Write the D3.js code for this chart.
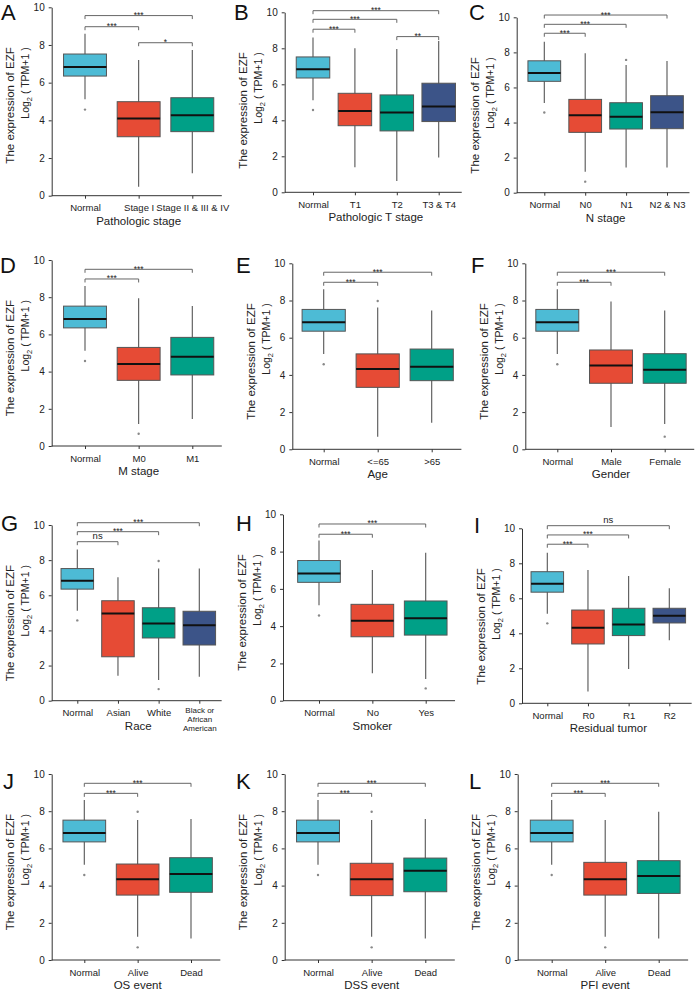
<!DOCTYPE html>
<html lang="en">
<head>
<meta charset="utf-8">
<title>EZF expression by clinical group</title>
<script src="https://cdn.jsdelivr.net/npm/d3@7"></script>
<style>
  body { margin: 0; background: #fff; }
  svg { display: block; font-family: "Liberation Sans", Arial, sans-serif; }
  .axis path, .axis line { stroke: #333; }
  .axis text { fill: #222; }
</style>
</head>
<body>
<svg id="chart" width="698" height="991"></svg>
<script>
// ---- data ----
var letters = ["A", "B", "C", "D", "E", "F", "G", "H", "I", "J", "K", "L"];
var xTitles = ["Pathologic stage", "Pathologic T stage", "N stage", "M stage", "Age", "Gender",
  "Race", "Smoker", "Residual tumor", "OS event", "DSS event", "PFI event"];
var categories = [
  ["Normal", "Stage I", "Stage II & III & IV"],
  ["Normal", "T1", "T2", "T3 & T4"],
  ["Normal", "N0", "N1", "N2 & N3"],
  ["Normal", "M0", "M1"],
  ["Normal", "<=65", ">65"],
  ["Normal", "Male", "Female"],
  ["Normal", "Asian", "White", "Black or\nAfrican\nAmerican"],
  ["Normal", "No", "Yes"],
  ["Normal", "R0", "R1", "R2"],
  ["Normal", "Alive", "Dead"],
  ["Normal", "Alive", "Dead"],
  ["Normal", "Alive", "Dead"]
];
var whiskLo = [
  [5.12, 0.48, 1.19], [5.12, 1.39, 0.63, 1.93], [5.12, 1.20, 1.43, 1.43],
  [5.12, 1.18, 1.45], [5.12, 0.68, 1.43], [5.12, 1.20, 1.36],
  [5.12, 1.42, 1.18, 1.37], [5.12, 1.47, 1.16], [5.12, 0.67, 1.96, 3.60],
  [5.12, 1.25, 1.16], [5.12, 1.25, 1.16], [5.12, 1.25, 1.16]
];
var q1 = [
  [6.35, 3.13, 3.40], [6.35, 3.70, 3.41, 3.93], [6.35, 3.44, 3.63, 3.65],
  [6.35, 3.53, 3.82], [6.35, 3.33, 3.69], [6.35, 3.55, 3.55],
  [6.35, 2.50, 3.57, 3.17], [6.35, 3.43, 3.52], [6.35, 3.39, 3.87, 4.59],
  [6.35, 3.49, 3.64], [6.35, 3.46, 3.67], [6.35, 3.49, 3.58]
];
var medians = [
  [6.83, 4.10, 4.27], [6.83, 4.52, 4.44, 4.76], [6.83, 4.41, 4.33, 4.58],
  [6.83, 4.41, 4.80], [6.83, 4.32, 4.44], [6.83, 4.50, 4.28],
  [6.83, 4.97, 4.40, 4.29], [6.83, 4.29, 4.42], [6.83, 4.32, 4.51, 5.01],
  [6.83, 4.34, 4.62], [6.83, 4.34, 4.80], [6.83, 4.34, 4.52]
];
var q3 = [
  [7.52, 4.99, 5.20], [7.52, 5.50, 5.41, 6.06], [7.52, 5.32, 5.13, 5.53],
  [7.52, 5.30, 5.84], [7.52, 5.13, 5.39], [7.52, 5.34, 5.14],
  [7.52, 5.69, 5.29, 5.09], [7.52, 5.17, 5.35], [7.52, 5.33, 5.43, 5.43],
  [7.52, 5.16, 5.50], [7.52, 5.20, 5.48], [7.52, 5.25, 5.34]
];
var whiskHi = [
  [8.60, 7.20, 7.73], [8.60, 8.00, 7.96, 8.41], [8.60, 7.95, 7.28, 7.51],
  [8.60, 7.94, 7.53], [8.60, 7.62, 7.46], [8.60, 7.94, 7.46],
  [8.60, 7.02, 7.53, 7.53], [8.60, 7.01, 7.94], [8.60, 7.62, 7.28, 6.57],
  [8.60, 7.53, 7.58], [8.60, 7.53, 7.58], [8.60, 7.53, 7.97]
];
var outliers = [
  [[4.57], [], []], [[4.57], [], [], []], [[4.57], [0.63], [7.57], []],
  [[4.57], [0.66], []], [[4.57], [7.97], []], [[4.57], [], [0.68]],
  [[4.57], [], [7.95, 0.66], []], [[4.57], [], [0.66]], [[4.57], [], [], []],
  [[4.57], [7.97, 0.68], []], [[4.57], [7.97, 0.68], []], [[4.57], [0.68], []]
];
// [from group, to group, height, label]
var brackets = [
  [[0, 1, 8.97, "***"], [0, 2, 9.56, "***"], [1, 2, 8.12, "*"]],
  [[0, 1, 9.06, "***"], [0, 2, 9.61, "***"], [0, 3, 10.09, "***"], [2, 3, 8.65, "**"]],
  [[0, 1, 9.09, "***"], [0, 2, 9.60, "***"], [0, 3, 10.13, "***"]],
  [[0, 1, 8.98, "***"], [0, 2, 9.50, "***"]],
  [[0, 1, 8.98, "***"], [0, 2, 9.52, "***"]],
  [[0, 1, 8.98, "***"], [0, 2, 9.52, "***"]],
  [[0, 1, 9.05, "ns"], [0, 2, 9.62, "***"], [0, 3, 10.13, "***"]],
  [[0, 1, 8.93, "***"], [0, 2, 9.48, "***"]],
  [[0, 1, 9.09, "***"], [0, 2, 9.62, "***"], [0, 3, 10.15, "ns"]],
  [[0, 1, 8.96, "***"], [0, 2, 9.50, "***"]],
  [[0, 1, 8.96, "***"], [0, 2, 9.50, "***"]],
  [[0, 1, 8.96, "***"], [0, 2, 9.50, "***"]]
];
var yTicks = [0, 2, 4, 6, 8, 10];
var groupColors = ["#4DBBD5", "#E64B35", "#00A087", "#3C5488"];

// ---- layout of the 4 x 3 grid (pixels) ----
var axisX = [51.7, 284.7, 516.7, 51.7, 292.3, 525.3, 51.7, 283, 522, 51.7, 284.7, 517.7];
var firstX = [85, 313, 544.3, 85, 323.7, 557.3, 77.3, 319, 547.3, 84.3, 318, 551.7];
var lastX = [192.3, 438.7, 667, 192.3, 431.7, 664.7, 199.3, 425.7, 669.3, 191, 425.3, 658.7];
var yTop = [7.3, 12.3, 17.3, 260, 263.3, 263.3, 525, 514.3, 528.3, 774, 774, 774];
var yBot = [195.7, 192.3, 192.7, 446, 449.3, 449.3, 700.7, 700.7, 703.3, 960, 960, 960];
var letterX = [1, 234, 469, 0, 236, 471, 1, 236, 474, 3, 236, 469];
var letterY = [20, 20, 20, 273, 273, 273, 531, 531, 533, 789, 789, 789];

var svg = d3.select("#chart");

letters.forEach(function (letter, p) {
  var cats = categories[p];
  var n = cats.length;
  var g = svg.append("g");

  var x = d3.scaleLinear().domain([1, n]).range([firstX[p], lastX[p]]);
  var y = d3.scaleLinear().domain([0, 10]).range([yBot[p], yTop[p]]);
  var step = x(2) - x(1);
  var boxW = step * 0.8;

  // y axis
  var ya = g.append("g").attr("class", "axis")
    .attr("transform", "translate(" + axisX[p] + ",0)")
    .call(d3.axisLeft(y).tickValues(yTicks).tickSize(3).tickSizeOuter(0).tickPadding(4));
  ya.selectAll("text").style("font-size", "10px");

  // x axis (line drawn separately so it joins the y axis)
  var xa = g.append("g").attr("class", "axis")
    .attr("transform", "translate(0," + yBot[p] + ")")
    .call(d3.axisBottom(x).tickValues(d3.range(1, n + 1)).tickSize(3).tickSizeOuter(0)
      .tickPadding(6).tickFormat(function (d) { return cats[d - 1]; }));
  xa.select(".domain").remove();
  xa.selectAll("text").style("font-size", "9.5px").each(function (d) {
    var lab = cats[d - 1];
    if (lab.indexOf("\n") < 0) return;
    var t = d3.select(this).text(null).attr("dy", null).attr("y", 12).style("font-size", "8px");
    lab.split("\n").forEach(function (part, k) {
      t.append("tspan").attr("x", 0).attr("dy", k === 0 ? 0 : 9).text(part);
    });
  });
  g.append("line")
    .attr("x1", axisX[p]).attr("x2", x(n + 0.55))
    .attr("y1", yBot[p]).attr("y2", yBot[p])
    .attr("stroke", "#333");

  // whiskers
  g.selectAll(".whisk").data(d3.range(n)).join("line")
    .attr("x1", function (i) { return x(i + 1); })
    .attr("x2", function (i) { return x(i + 1); })
    .attr("y1", function (i) { return y(whiskLo[p][i]); })
    .attr("y2", function (i) { return y(whiskHi[p][i]); })
    .attr("stroke", "#555").attr("stroke-width", 1.1);

  // boxes
  g.selectAll(".box").data(d3.range(n)).join("rect")
    .attr("x", function (i) { return x(i + 1) - boxW / 2; })
    .attr("width", boxW)
    .attr("y", function (i) { return y(q3[p][i]); })
    .attr("height", function (i) { return y(q1[p][i]) - y(q3[p][i]); })
    .attr("fill", function (i) { return groupColors[i]; })
    .attr("stroke", "#555").attr("stroke-width", 1);

  // medians
  g.selectAll(".med").data(d3.range(n)).join("line")
    .attr("x1", function (i) { return x(i + 1) - boxW / 2; })
    .attr("x2", function (i) { return x(i + 1) + boxW / 2; })
    .attr("y1", function (i) { return y(medians[p][i]); })
    .attr("y2", function (i) { return y(medians[p][i]); })
    .attr("stroke", "#111").attr("stroke-width", 2);

  // outliers
  var pts = [];
  outliers[p].forEach(function (vals, i) {
    vals.forEach(function (v) { pts.push({ i: i, v: v }); });
  });
  g.selectAll(".out").data(pts).join("circle")
    .attr("cx", function (d) { return x(d.i + 1); })
    .attr("cy", function (d) { return y(d.v); })
    .attr("r", 1.2)
    .attr("fill", "#888");

  // significance brackets
  brackets[p].forEach(function (b) {
    var x1 = x(b[0] + 1), x2 = x(b[1] + 1), yb = y(b[2]);
    g.append("path")
      .attr("d", "M" + x1 + "," + (yb + 3.5) + "V" + yb + "H" + x2 + "V" + (yb + 3.5))
      .attr("fill", "none").attr("stroke", "#666").attr("stroke-width", 1);
    g.append("text")
      .attr("x", (x1 + x2) / 2)
      .attr("y", b[3].indexOf("*") >= 0 ? yb + 2.5 : yb - 2.5)
      .attr("text-anchor", "middle")
      .style("font-size", b[3].indexOf("*") >= 0 ? "8.5px" : "9.5px")
      .attr("fill", "#222")
      .text(b[3]);
  });

  // axis titles
  g.append("text")
    .attr("x", (firstX[p] + lastX[p]) / 2)
    .attr("y", yBot[p] + 29)
    .attr("text-anchor", "middle")
    .style("font-size", "11.5px")
    .attr("fill", "#222")
    .text(xTitles[p]);

  g.append("text")
    .attr("transform", "translate(" + (axisX[p] - 37.5) + "," + (yTop[p] + 40) + ") rotate(-90)")
    .attr("text-anchor", "end")
    .style("font-size", "11.5px")
    .attr("fill", "#222")
    .text("The expression of EZF");
  var yt2 = g.append("text")
    .attr("transform", "translate(" + (axisX[p] - 22.5) + "," + (yTop[p] + 40) + ") rotate(-90)")
    .attr("text-anchor", "end")
    .style("font-size", "10.5px")
    .attr("fill", "#222");
  yt2.append("tspan").text("Log");
  yt2.append("tspan").attr("dy", 3).style("font-size", "7.5px").text("2");
  yt2.append("tspan").attr("dy", -3).text(" ( TPM+1 )");

  // panel letter
  g.append("text")
    .attr("x", letterX[p]).attr("y", letterY[p])
    .style("font-size", "22px")
    .attr("fill", "#111")
    .text(letter);
});
</script>
</body>
</html>
